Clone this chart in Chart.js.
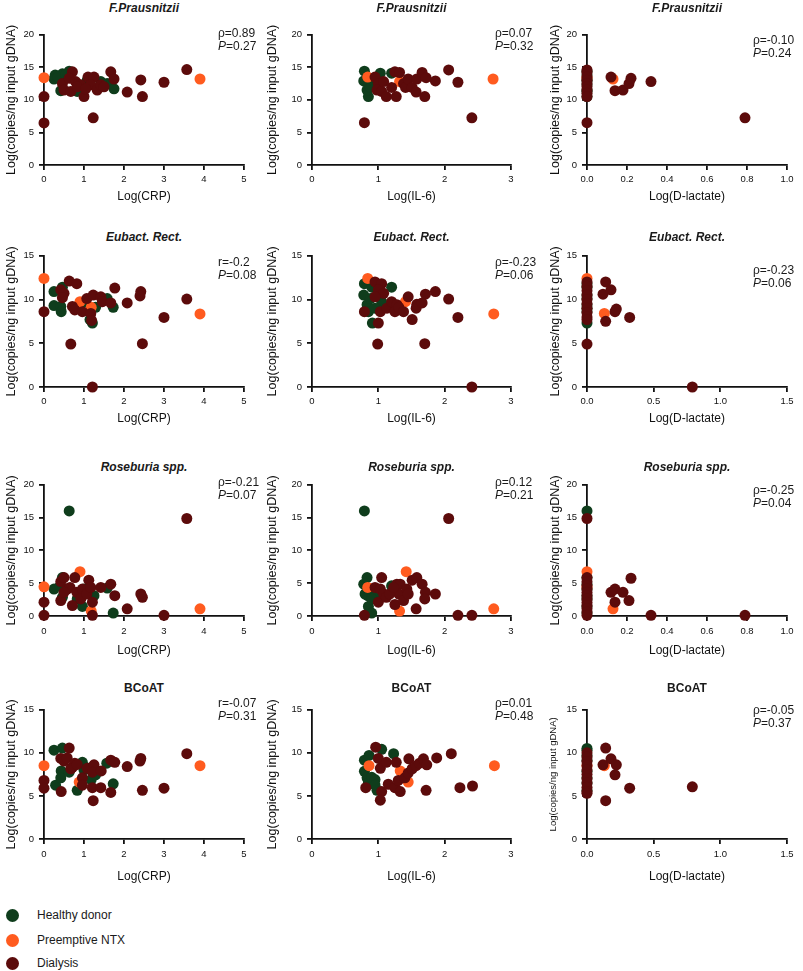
<!DOCTYPE html>
<html><head><meta charset="utf-8">
<script src="https://cdn.jsdelivr.net/npm/chart.js@4.4.1/dist/chart.umd.min.js"></script>
<style>
body{margin:0;background:#fff;width:803px;height:971px;position:relative;overflow:hidden;font-family:"Liberation Sans",Arial,sans-serif;color:#1a1a1a}
canvas{position:absolute}
.t{position:absolute;text-align:center;font-weight:bold;font-size:12px;line-height:14px;white-space:nowrap}
.s{position:absolute;font-size:12px;line-height:13px;white-space:nowrap}
.lg{position:absolute;font-size:12px;line-height:14px;white-space:nowrap}
.dot{position:absolute;width:13px;height:13px;border-radius:50%}
</style></head>
<body>
<script>
// ---------- categories / labels ----------
const groups = ['Healthy donor', 'Preemptive NTX', 'Dialysis'];
const rowTitles = ['F.Prausnitzii', 'Eubact. Rect.', 'Roseburia spp.', 'BCoAT'];
const rowItalic = [true, true, true, false];
const xTitles = ['Log(CRP)', 'Log(IL-6)', 'Log(D-lactate)'];
const yTitle = 'Log(copies/ng input gDNA)';
const corrText = ['ρ=0.89','ρ=0.07','ρ=-0.10','r=-0.2','ρ=-0.23','ρ=-0.23','ρ=-0.21','ρ=0.12','ρ=-0.25','r=-0.07','ρ=0.01','ρ=-0.05'];
const pValues = ['0.27','0.32','0.24','0.08','0.06','0.06','0.07','0.21','0.04','0.31','0.48','0.37'];
const yMaxByRow = [20, 15, 20, 15];
const xMaxCRP = 5, xMaxIL6 = 3;
const xMaxDlacByRow = [1.0, 1.5, 1.0, 1.5];
const xStepDlacByRow = [0.2, 0.5, 0.2, 0.5];

// ---------- F.Prausnitzii ----------
const fpCrpHealthy = [[0.28,13.8],[0.46,14.0],[0.63,14.4],[0.25,13.2],[0.42,11.4],[0.83,11.3],[1.58,12.5],[1.75,11.7],[1.08,13.0],[1.42,12.8],[0.35,13.5],[0.55,13.9]];
const fpCrpPreemptive = [[0,13.4],[3.9,13.2]];
const fpCrpDialysis = [[0,10.5],[0,6.45],[3.57,14.65],[3.0,12.7],[2.42,13.05],[2.46,10.5],[2.08,11.2],[1.23,7.25],[1.67,14.3],[1.75,13.2],[0.71,14.3],[0.46,12.5],[0.5,11.5],[0.67,11.3],[0.79,12.8],[0.92,12.3],[1.0,10.5],[1.1,13.5],[1.25,13.5],[1.17,12.3],[1.33,11.5],[1.42,12.3],[1.5,12.0],[0.63,13.3],[0.83,12.0],[1.04,11.7]];

const fpIl6Healthy = [[0.79,14.4],[0.78,12.9],[0.85,10.5],[0.83,11.5],[1.03,14.1],[1.2,14.1],[0.9,12.3],[0.95,13.0],[0.88,11.9]];
const fpIl6Preemptive = [[0.84,13.5],[1.32,12.8],[2.73,13.2]];
const fpIl6Dialysis = [[0.79,6.5],[0.95,13.5],[1.0,12.5],[0.98,11.5],[1.05,11.3],[1.08,12.8],[1.12,10.5],[1.27,10.5],[1.25,14.3],[1.32,14.2],[1.2,11.9],[1.38,12.5],[1.41,11.9],[1.45,13.2],[1.51,11.9],[1.57,11.2],[1.58,13.2],[1.66,14.2],[1.72,13.4],[1.7,10.5],[1.86,12.9],[2.06,14.6],[2.2,12.7],[2.41,7.25]];

const fpDlacHealthy = [[0,14.4],[0,13.8],[0,13.2],[0,12.9],[0,12.3],[0,11.5],[0,11.3],[0,10.5]];
const fpDlacPreemptive = [[0,13.4],[0.13,13.2]];
const fpDlacDialysis = [[0,14.6],[0,14.2],[0,13.5],[0,13.0],[0,12.5],[0,12.0],[0,11.5],[0,11.0],[0,10.5],[0,6.5],[0.12,13.5],[0.14,11.4],[0.18,11.5],[0.21,12.5],[0.22,13.3],[0.32,12.8],[0.79,7.25]];

// ---------- Eubact. Rect. ----------
const erCrpHealthy = [[0.25,10.9],[0.25,9.3],[0.46,11.4],[0.42,9.2],[0.43,8.6],[0.96,9.6],[1.15,7.7],[1.29,9.1],[1.58,10.1],[1.73,9.1],[1.21,7.3]];
const erCrpPreemptive = [[0,12.4],[0.9,9.75],[1.18,9.1],[3.9,8.35]];
const erCrpDialysis = [[0,8.6],[0.63,12.1],[0.82,11.8],[0.42,11.1],[0.5,10.7],[0.46,10.2],[0.71,9.2],[0.77,8.8],[0.67,4.9],[0.96,8.6],[1.07,10.1],[1.23,10.5],[1.17,8.4],[1.19,7.6],[1.42,10.3],[1.46,9.75],[1.67,9.6],[1.77,11.3],[2.08,9.6],[2.42,10.9],[2.4,10.4],[2.46,4.95],[3.0,7.95],[3.57,10.05],[1.21,0]];

const erIl6Healthy = [[0.79,11.8],[0.78,10.5],[0.83,9.4],[0.85,8.6],[0.91,7.3],[0.9,11.4],[1.05,9.75],[1.2,11.4],[1.03,10.6],[0.88,10.1],[0.95,9.0]];
const erIl6Preemptive = [[0.84,12.4],[1.41,9.75],[2.74,8.35]];
const erIl6Dialysis = [[0.79,8.6],[0.95,12.0],[1.05,11.8],[1.0,11.1],[1.08,10.7],[0.95,10.3],[1.0,7.3],[1.03,8.6],[0.99,4.9],[1.13,9.0],[1.2,9.75],[1.28,9.4],[1.25,8.6],[1.31,9.1],[1.38,8.6],[1.45,10.3],[1.51,7.7],[1.58,9.45],[1.57,9.0],[1.66,9.6],[1.71,10.6],[1.7,4.95],[1.86,10.9],[2.06,10.05],[2.2,7.95],[2.41,0]];

const erDlacHealthy = [[0,11.8],[0,11.4],[0,10.5],[0,10.1],[0,9.4],[0,9.0],[0,8.6],[0,7.3]];
const erDlacPreemptive = [[0,12.4],[0.13,8.4]];
const erDlacDialysis = [[0,12.0],[0,11.5],[0,11.0],[0,10.5],[0,10.0],[0,9.5],[0,9.0],[0,8.5],[0,8.0],[0,7.7],[0,4.9],[0.12,10.6],[0.14,12.0],[0.18,11.1],[0.14,7.5],[0.21,8.6],[0.22,8.9],[0.32,7.95],[0.79,0]];

// ---------- Roseburia spp. ----------
const rsCrpHealthy = [[0.63,16.0],[0.25,4.1],[0.46,5.85],[0.46,2.85],[0.83,2.6],[0.96,1.45],[1.25,3.1],[1.58,4.25],[1.73,0.45],[1.0,4.1],[0.4,4.6]];
const rsCrpPreemptive = [[0,4.45],[0.9,6.75],[1.18,0.75],[3.9,1.1]];
const rsCrpDialysis = [[0,2.1],[0,0.1],[0.42,5.25],[0.42,2.35],[0.5,5.85],[0.58,4.1],[0.71,1.6],[0.77,5.85],[0.65,4.35],[0.82,3.6],[0.96,4.1],[0.92,2.6],[1.12,5.45],[1.07,3.35],[1.21,2.1],[1.21,0.1],[1.17,4.35],[1.42,4.35],[1.67,4.85],[1.77,3.1],[2.08,1.1],[2.42,3.35],[2.46,2.85],[3.0,0.1],[3.57,14.85],[0.5,3.6]];

const rsIl6Healthy = [[0.79,16.0],[0.78,4.85],[0.83,5.85],[0.85,4.1],[0.84,3.1],[0.85,1.45],[0.9,0.45],[0.95,3.1],[1.2,4.6],[0.8,3.35],[0.9,2.6]];
const rsIl6Preemptive = [[0.84,4.35],[1.42,6.75],[1.32,0.75],[2.74,1.1]];
const rsIl6Dialysis = [[0.79,0.1],[0.95,4.35],[1.05,5.85],[1.03,4.1],[1.0,2.1],[1.08,3.35],[1.12,2.85],[1.25,1.75],[1.28,4.85],[1.33,4.85],[1.31,3.35],[1.38,2.35],[1.43,4.1],[1.45,3.35],[1.51,5.45],[1.58,5.85],[1.57,1.1],[1.66,4.85],[1.71,3.6],[1.7,2.6],[1.86,3.35],[2.06,14.85],[2.2,0.1],[2.41,0.1],[1.17,3.35],[1.23,4.35]];

const rsDlacHealthy = [[0,16.0],[0,5.85],[0,4.85],[0,4.1],[0,3.1],[0,2.6],[0,1.45],[0,0.45]];
const rsDlacPreemptive = [[0,6.75],[0,4.45],[0.13,1.1]];
const rsDlacDialysis = [[0,14.85],[0,5.85],[0,5.25],[0,4.6],[0,4.1],[0,3.6],[0,3.1],[0,2.6],[0,2.1],[0,1.6],[0,1.1],[0,0.6],[0,0.1],[0.12,3.6],[0.14,4.1],[0.14,2.1],[0.18,3.6],[0.21,2.35],[0.22,5.75],[0.32,0.1],[0.79,0.1]];

// ---------- BCoAT ----------
const bcCrpHealthy = [[0.25,10.3],[0.29,6.25],[0.46,10.55],[0.43,7.9],[0.42,7.1],[0.63,7.75],[0.83,5.65],[0.96,8.9],[1.0,8.0],[1.18,6.9],[1.29,7.45],[1.57,8.8],[1.73,6.4],[1.12,8.2]];
const bcCrpPreemptive = [[0,8.5],[0.88,6.6],[3.9,8.5]];
const bcCrpDialysis = [[0,6.8],[0,5.9],[0.63,10.55],[0.42,9.35],[0.5,9.05],[0.58,9.4],[0.71,8.3],[0.77,8.8],[0.43,5.5],[0.67,8.15],[0.83,8.65],[0.96,7.1],[0.96,6.25],[1.08,8.2],[1.25,8.6],[1.21,7.75],[1.21,5.95],[1.23,4.45],[1.42,5.95],[1.43,7.9],[1.67,9.15],[1.67,5.4],[1.77,8.9],[2.08,8.4],[2.42,9.35],[2.4,9.05],[2.46,5.65],[3.0,5.9],[3.57,9.9]];

const bcIl6Healthy = [[0.79,9.15],[0.86,9.7],[0.79,7.85],[0.83,7.1],[0.85,6.5],[0.9,7.15],[0.95,6.9],[0.98,5.65],[1.05,10.4],[1.23,9.9],[0.95,6.25]];
const bcIl6Preemptive = [[0.86,8.5],[1.33,7.9],[1.45,6.6],[2.75,8.5]];
const bcIl6Dialysis = [[0.81,5.95],[0.96,10.65],[1.0,9.35],[1.03,8.2],[1.12,8.9],[1.05,5.5],[1.03,4.5],[1.15,6.35],[1.25,5.95],[1.27,8.9],[1.3,6.8],[1.33,5.5],[1.46,9.3],[1.4,7.1],[1.45,7.65],[1.51,8.15],[1.57,8.5],[1.62,8.8],[1.68,9.3],[1.73,8.6],[1.72,5.65],[1.88,9.4],[2.1,9.9],[2.23,5.95],[2.42,6.15]];

const bcDlacHealthy = [[0,10.5],[0,10.3],[0,9.7],[0,9.15],[0,7.85],[0,7.1],[0,6.5],[0,5.65]];
const bcDlacPreemptive = [[0,8.5],[0.13,8.5]];
const bcDlacDialysis = [[0,10.0],[0,9.5],[0,9.0],[0,8.5],[0,8.0],[0,7.5],[0,7.0],[0,6.5],[0,6.0],[0,5.5],[0,5.3],[0.14,10.55],[0.12,8.6],[0.18,9.3],[0.22,8.6],[0.21,7.45],[0.14,4.45],[0.32,5.9],[0.79,6.05]];

const panels = [
  [fpCrpHealthy, fpCrpPreemptive, fpCrpDialysis],
  [fpIl6Healthy, fpIl6Preemptive, fpIl6Dialysis],
  [fpDlacHealthy, fpDlacPreemptive, fpDlacDialysis],
  [erCrpHealthy, erCrpPreemptive, erCrpDialysis],
  [erIl6Healthy, erIl6Preemptive, erIl6Dialysis],
  [erDlacHealthy, erDlacPreemptive, erDlacDialysis],
  [rsCrpHealthy, rsCrpPreemptive, rsCrpDialysis],
  [rsIl6Healthy, rsIl6Preemptive, rsIl6Dialysis],
  [rsDlacHealthy, rsDlacPreemptive, rsDlacDialysis],
  [bcCrpHealthy, bcCrpPreemptive, bcCrpDialysis],
  [bcIl6Healthy, bcIl6Preemptive, bcIl6Dialysis],
  [bcDlacHealthy, bcDlacPreemptive, bcDlacDialysis]
];

// ---------- styling / layout ----------
const colors = ['#0f3d1c', '#ff5b1f', '#5c0b0b'];
const drawOrder = [3, 2, 1];
const FAM = '"Liberation Sans", Arial, sans-serif';
const colL = [44, 312, 587], colR = [244, 511, 787], yBoxW = [44, 51, 43];
const rowT = [32, 253, 482, 707], rowB = [165, 387, 616, 839], xBoxH = [43, 43, 46, 49];
const titleY = [8, 237, 467, 688];
const statY = [[33,33,40],[262,262,270],[482,482,490],[703,703,710]];
const statX = [218, 495, 753];
const PADT = 8, PADR = 12;

for (let r = 0; r < 4; r++) {
  for (let c = 0; c < 3; c++) {
    const idx = r * 3 + c;
    const L = colL[c], R = colR[c], T = rowT[r], B = rowB[r];
    const cw = yBoxW[c] + (R - L) + PADR;
    const ch = PADT + (B - T) + xBoxH[r];
    const cv = document.createElement('canvas');
    cv.width = cw; cv.height = ch;
    cv.style.left = (L - yBoxW[c]) + 'px';
    cv.style.top = (T - PADT) + 'px';
    cv.style.width = cw + 'px'; cv.style.height = ch + 'px';
    document.body.appendChild(cv);

    let xMax, xStep, xFmt;
    if (c === 0) { xMax = xMaxCRP; xStep = 1; xFmt = v => String(v); }
    else if (c === 1) { xMax = xMaxIL6; xStep = 1; xFmt = v => String(v); }
    else { xMax = xMaxDlacByRow[r]; xStep = xStepDlacByRow[r]; xFmt = v => Number(v).toFixed(1); }

    const yTitleSize = (idx === 11) ? 9.5 : 12.5;

    new Chart(cv, {
      type: 'scatter',
      data: {
        datasets: panels[idx].map((pts, k) => ({
          label: groups[k],
          data: pts.map(p => ({ x: p[0], y: p[1] })),
          backgroundColor: colors[k],
          borderColor: colors[k],
          borderWidth: 0,
          pointRadius: 5.5,
          pointHoverRadius: 5.5,
          order: drawOrder[k],
          clip: false
        }))
      },
      options: {
        responsive: false,
        animation: false,
        events: [],
        layout: { padding: { top: PADT, right: PADR, left: 0, bottom: 0 } },
        plugins: { legend: { display: false }, tooltip: { enabled: false }, title: { display: false } },
        scales: {
          x: {
            type: 'linear', min: 0, max: xMax,
            ticks: { stepSize: xStep, padding: (r >= 2 ? 5 : 4), color: '#111', font: { size: 9.5, family: FAM }, callback: xFmt, maxRotation: 0 },
            grid: { display: true, drawOnChartArea: false, drawTicks: true, tickLength: 5, color: '#111', lineWidth: 1.8 },
            border: { display: true, color: '#111', width: 1.8 },
            title: { display: true, text: xTitles[c], color: '#111', font: { size: 12, family: FAM }, padding: { top: 2, bottom: 4 } },
            afterFit: s => { s.height = xBoxH[r]; }
          },
          y: {
            type: 'linear', min: 0, max: yMaxByRow[r],
            ticks: { stepSize: 5, padding: 5, color: '#111', font: { size: 9.5, family: FAM } },
            grid: { display: true, drawOnChartArea: false, drawTicks: true, tickLength: 5, color: '#111', lineWidth: 1.8 },
            border: { display: true, color: '#111', width: 1.8 },
            title: { display: true, text: yTitle, color: '#111', font: { size: yTitleSize, family: FAM }, padding: { top: 4, bottom: 4 } },
            afterFit: s => { s.width = yBoxW[c]; }
          }
        }
      }
    });

    // panel title
    const t = document.createElement('div');
    t.className = 't';
    t.style.left = L + 'px'; t.style.width = (R - L) + 'px';
    t.style.top = (titleY[r] - 7) + 'px';
    t.style.fontStyle = rowItalic[r] ? 'italic' : 'normal';
    t.textContent = rowTitles[r];
    document.body.appendChild(t);

    // correlation annotation
    const s = document.createElement('div');
    s.className = 's';
    s.style.left = statX[c] + 'px';
    s.style.top = (statY[r][c] - 6) + 'px';
    const l1 = document.createElement('div'); l1.textContent = corrText[idx];
    const l2 = document.createElement('div');
    const ip = document.createElement('i'); ip.textContent = 'P';
    l2.appendChild(ip); l2.appendChild(document.createTextNode('=' + pValues[idx]));
    s.appendChild(l1); s.appendChild(l2);
    document.body.appendChild(s);
  }
}

// legend
const legendY = [915, 940, 963];
groups.forEach((g, k) => {
  const d = document.createElement('div');
  d.className = 'dot';
  d.style.left = '6px'; d.style.top = (legendY[k] - 6.5) + 'px';
  d.style.background = colors[k];
  document.body.appendChild(d);
  const tx = document.createElement('div');
  tx.className = 'lg';
  tx.style.left = '37px'; tx.style.top = (legendY[k] - 7) + 'px';
  tx.textContent = g;
  document.body.appendChild(tx);
});
</script>
</body></html>
